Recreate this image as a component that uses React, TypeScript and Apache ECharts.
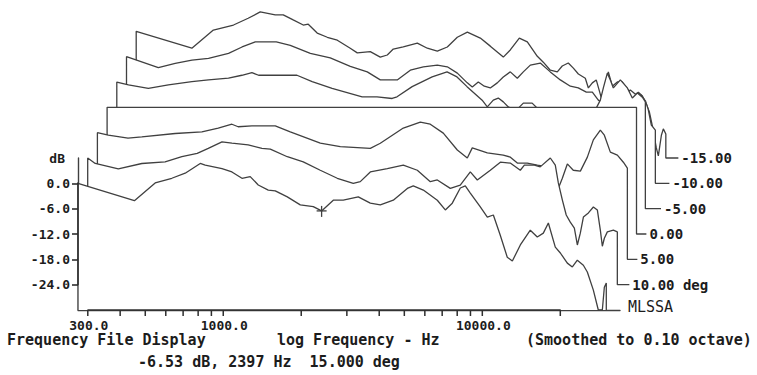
import React, { useEffect, useRef } from 'react';
import * as echarts from 'echarts';

// ---------------- data (frequency in Hz, level in dB relative to on-axis) ----------------
const F_MIN = 275;
const F_MAX = 34000;
const DB_MIN = -30;
const DB_MAX = 6;

const TRACE_LABELS = ['', '10.00 deg', '5.00', '0.00', '-5.00', '-10.00', '-15.00'];
const LABEL_TICK_END = [0, 33900, 33390, 33190, 35100, 34270, 34050];

const FREQ_15 = [275, 454, 546, 633, 713, 815, 852, 989, 1080, 1181, 1271, 1365, 1492, 1588, 1767, 1983, 2226, 2397, 2659, 2905, 3321, 3695, 4039, 4533, 5135, 5414, 5919, 6703, 7197, 7657, 8224, 8597, 8988, 9824, 10455, 11030, 11730, 12483, 13060, 14020, 15320, 16300, 17200, 17985, 19130, 20010, 21290, 22260, 23270, 24550, 25430, 26830, 28040, 29060, 29580, 30100];
const DB_15 = [0, -4.1, 0.1, 1.2, 2.4, 4.7, 4.3, 3.5, 2.7, 1.2, 1.6, -0.4, -1.6, -1.8, -3.2, -5.1, -5.5, -6.53, -4.0, -4.0, -3.2, -4.7, -5.1, -4.0, -1.2, -0.6, -1.6, -4.0, -6.3, -4.7, -1.1, -0.6, -2.3, -5.6, -8.0, -7.5, -12.3, -17.5, -18.4, -14.6, -11.1, -12.7, -11.8, -9.4, -15.1, -16.5, -18.9, -19.8, -18.2, -19.4, -21.0, -25.3, -30, -30, -24.6, -23.6];

const FREQ_10 = [275, 294, 361, 445, 547, 635, 728, 803, 907, 991, 1145, 1294, 1394, 1621, 1868, 2173, 2528, 2914, 3101, 3390, 3943, 4546, 5148, 5779, 6149, 6903, 7542, 8246, 8775, 9850, 10770, 11760, 12860, 13330, 14570, 15350, 16790, 17550, 18030, 18680, 19340, 20050, 20790, 21350, 21920, 22530, 23550, 24620, 25500, 26190, 26660, 27140, 27870, 29410, 30460];
const DB_10 = [0, -1.3, -2.6, -1.3, -0.9, 0.3, 1.1, 2.3, 3.8, 3.5, 3.1, 2.3, 2.1, 0.3, -0.9, -2.9, -4.8, -6.0, -5.6, -3.3, -2.5, -1.7, -2.9, -5.6, -5.2, -7.2, -6.4, -3.3, -5.2, -2.9, -1.0, -1.2, -2.9, -1.7, -1.7, -2.1, 0.0, -1.7, -5.9, -9.9, -13.5, -15.2, -16.6, -20.6, -17.8, -14.0, -13.0, -11.6, -12.3, -17.1, -20.9, -19.0, -17.5, -17.1, -17.5];

const FREQ_5 = [275, 303, 361, 408, 549, 696, 805, 909, 961, 1086, 1336, 1527, 1994, 2382, 3110, 3399, 4170, 4851, 5300, 5950, 6739, 7365, 7698, 8799, 10140, 10800, 11490, 12550, 13730, 15000, 15540, 16040, 16560, 17140, 17920, 18890, 20120, 21410, 22580, 24030, 24900, 26260, 27950, 29480, 30550];
const DB_5 = [0, -0.6, -1.3, -1.0, -0.2, 0.2, 1.1, 2.0, 1.4, 1.6, 1.6, 0.2, -2.5, -3.3, -3.7, -2.5, 1.1, 2.5, 2.0, -0.1, -4.1, -6.0, -3.6, -4.8, -5.3, -5.8, -7.2, -7.2, -7.7, -8.1, -6.5, -10.0, -13.1, -10.8, -7.4, -8.9, -9.1, -5.8, -1.7, 0.6, -0.6, -4.6, -5.3, -7.0, -8.4];

const FREQ_0 = [275, 30400];
const DB_0 = [0, 0];

const FREQ_M5 = [275, 305, 364, 435, 536, 621, 742, 836, 914, 970, 1124, 1364, 1561, 1864, 2434, 2778, 3178, 3319, 3797, 4535, 5177, 5657, 6184, 7073, 7405, 7809, 8163, 8537, 8925, 9498, 10200, 11030, 11550, 12730, 14410, 15760, 17700, 19340, 20220, 20770, 21520, 22100, 22700, 24160, 25710, 26870, 28100, 29380, 30170];
const DB_M5 = [0, -0.7, -1.5, -0.7, 0.1, 0.5, 0.9, 1.6, 2.2, 1.6, 1.6, 1.6, 0.1, -1.5, -3.5, -3.5, -3.9, -3.5, -1.1, 1.2, 2.4, 1.2, -1.1, -4.3, -5.9, -4.3, -3.8, -4.7, -5.9, -6.9, -5.0, -5.0, -6.2, -7.1, -7.1, -6.2, -7.1, -6.6, -4.3, -1.4, 2.1, 0.5, -1.4, 0.5, -1.4, -3.8, -2.6, -3.6, -4.7];

const FREQ_M10 = [275, 365, 424, 492, 570, 681, 768, 864, 1041, 1179, 1409, 1682, 2010, 2337, 2624, 3051, 3426, 3846, 4356, 4760, 5204, 5686, 5945, 6270, 6615, 6976, 7424, 7829, 8334, 8870, 9355, 9956, 10880, 11890, 13000, 14210, 15250, 16380, 17280, 18220, 19220, 20280, 21390, 22970, 24220, 25550, 26710, 27710, 28420, 29190, 30250];
const DB_M10 = [0, -2.6, -1.6, -0.8, -0.4, 0.8, 2.3, 3.5, 3.5, 2.7, 0.8, -0.3, -2.3, -3.6, -5.5, -5.5, -3.2, -2.4, -2.0, -2.4, -3.9, -6.2, -7.2, -6.0, -7.0, -7.4, -6.2, -4.8, -3.6, -5.1, -3.6, -2.0, -1.5, -3.6, -5.5, -7.0, -7.4, -8.4, -8.4, -10.3, -11.2, -9.6, -8.4, -9.3, -7.9, -9.1, -9.1, -10.5, -12.6, -16.2, -17.4];

const FREQ_M15 = [275, 451, 546, 653, 744, 828, 946, 1016, 1110, 1214, 1269, 1374, 1503, 1643, 1843, 1962, 2202, 2407, 2562, 2702, 2952, 3345, 3656, 3996, 4368, 4773, 5218, 5856, 6400, 7184, 7643, 8283, 8894, 9720, 10250, 10910, 11610, 12130, 12800, 13390, 14000, 14890, 15300, 15850, 16410, 17180, 17640, 18270, 18930, 19790, 20700, 21830, 22820, 23860, 24720, 25610, 26310, 27020, 27990, 28500, 29280, 29790, 30460];
const DB_M15 = [0, -4.0, 0.3, 1.5, 3.1, 4.6, 3.9, 3.9, 2.7, 1.5, 1.7, -0.4, -1.4, -2.1, -4.0, -5.1, -4.8, -6.1, -5.6, -4.2, -3.7, -2.8, -4.0, -4.7, -3.7, -1.4, -0.2, -1.6, -3.5, -6.1, -4.4, -1.6, -2.5, -5.9, -7.3, -9.2, -9.6, -8.2, -7.5, -8.7, -10.1, -11.1, -13.4, -12.2, -11.5, -15.8, -13.4, -9.6, -13.0, -12.0, -12.0, -13.9, -15.3, -14.4, -15.3, -17.2, -19.1, -22.4, -27.6, -29.5, -24.6, -23.1, -24.3];

const X_TICKS = [300, 400, 500, 600, 700, 800, 900, 1000, 2000, 3000, 4000, 5000, 6000, 7000, 8000, 9000, 10000, 20000];
const X_LABELS = [300, 1000, 10000];
const Y_TICKS = [0, -6, -12, -18, -24];
const CURSOR = [2397, -6.53];

// tick mark sizes, expressed in axis units of the front grid
const X_TICK_LEN_DB = 1.4;   // ~6 px below the baseline
const Y_TICK_FREQ = 262;     // ~5 px left of the left axis (275 Hz)

// ---------------- layout / style ----------------
const GRID_LEFT = 78;
const GRID_TOP = 158;
const GRID_W = 542;
const GRID_H = 152;
const STEP_X = 9.7;
const STEP_Y = 25.33;

const LINE = '#404040';
const TICK = '#2f2f2f';
const TEXT = '#1c1c1c';
const MONO = '"DejaVu Sans Mono", "Liberation Mono", monospace';

export default function App() {
  const ref = useRef<HTMLDivElement>(null);

  useEffect(() => {
    const el = ref.current;
    if (!el) return;
    const chart = echarts.init(el, null, { renderer: 'svg' });

    const traces = [
      { f: FREQ_15, db: DB_15 },
      { f: FREQ_10, db: DB_10 },
      { f: FREQ_5, db: DB_5 },
      { f: FREQ_0, db: DB_0 },
      { f: FREQ_M5, db: DB_M5 },
      { f: FREQ_M10, db: DB_M10 },
      { f: FREQ_M15, db: DB_M15 },
    ];

    const grids = traces.map((_, k) => ({
      left: GRID_LEFT + k * STEP_X,
      top: GRID_TOP - k * STEP_Y,
      width: GRID_W,
      height: GRID_H,
      containLabel: false,
      outerBoundsMode: 'none',
    }));

    const xAxes = traces.map((_, k) => ({
      type: 'log',
      logBase: 10,
      gridIndex: k,
      min: F_MIN,
      max: F_MAX,
      show: k === 0,
      axisLine: { show: k === 0, onZero: false, lineStyle: { color: LINE, width: 1.4 } },
      axisTick: { show: false },
      axisLabel: { show: false },
      splitLine: { show: false },
      minorTick: { show: false },
    }));

    const yAxes = traces.map((_, k) => {
      if (k > 0) {
        return { type: 'value', gridIndex: k, min: DB_MIN, max: DB_MAX, show: false, splitLine: { show: false } };
      }
      return {
        type: 'value',
        gridIndex: 0,
        min: DB_MIN,
        max: DB_MAX,
        name: 'dB',
        nameLocation: 'end',
        nameGap: 0,
        nameTextStyle: {
          align: 'right',
          verticalAlign: 'middle',
          padding: [0, 13, 0, 0],
          color: TEXT,
          fontFamily: MONO,
          fontSize: 13,
          fontWeight: 'bold',
        },
        axisLine: { show: true, onZero: false, lineStyle: { color: LINE, width: 1.4 } },
        axisTick: { show: true, customValues: Y_TICKS, length: 6, lineStyle: { color: TICK, width: 1.6 } },
        axisLabel: {
          show: true,
          customValues: Y_TICKS,
          formatter: (v: number) => v.toFixed(1),
          margin: 8,
          color: TEXT,
          fontFamily: MONO,
          fontSize: 13,
          fontWeight: 'bold',
        },
        splitLine: { show: false },
      };
    });

    const traceSeries = traces.map((t, k) => {
      const pts = t.f.map((f, i) => [f, t.db[i]]);
      const last = t.f[t.f.length - 1];
      const data: number[][] = [[t.f[0], DB_MIN], ...pts, [last, DB_MIN]];
      if (k > 0) data.push([LABEL_TICK_END[k], DB_MIN]);
      const s: any = {
        type: 'line',
        name: k === 0 ? '15.00 deg' : TRACE_LABELS[k],
        xAxisIndex: k,
        yAxisIndex: k,
        data,
        symbol: 'none',
        clip: false,
        silent: true,
        z: 20 - k,
        lineStyle: { color: LINE, width: 1.3 },
        areaStyle: { color: '#ffffff', opacity: 1, origin: 'start' },
      };
      if (k > 0) {
        s.endLabel = {
          show: true,
          formatter: TRACE_LABELS[k],
          distance: 3,
          color: TEXT,
          fontFamily: MONO,
          fontSize: 14,
          fontWeight: 'bold',
        };
      }
      return s;
    });

    // tick combs drawn as line series through the front grid's axes
    const xComb: number[][] = [];
    X_TICKS.forEach((f) => {
      xComb.push([f, DB_MIN], [f, DB_MIN - X_TICK_LEN_DB], [f, DB_MIN]);
    });
    const yComb: number[][] = [];
    Y_TICKS.forEach((v) => {
      yComb.push([F_MIN, v], [Y_TICK_FREQ, v], [F_MIN, v]);
    });
    const combStyle = {
      type: 'line',
      xAxisIndex: 0,
      yAxisIndex: 0,
      symbol: 'none',
      clip: false,
      silent: true,
      z: 30,
      lineStyle: { color: TICK, width: 1.5 },
    };
    const xTickSeries = { ...combStyle, name: 'xticks', data: xComb };
    const yTickSeries = { ...combStyle, name: 'yticks', data: yComb };

    const cursorSeries = {
      type: 'custom',
      xAxisIndex: 0,
      yAxisIndex: 0,
      silent: true,
      clip: false,
      z: 45,
      data: [CURSOR],
      renderItem: (params: any, api: any) => {
        const p = api.coord([api.value(0), api.value(1)]);
        return {
          type: 'group',
          children: [
            { type: 'line', shape: { x1: p[0] - 5, y1: p[1], x2: p[0] + 5, y2: p[1] }, style: { stroke: LINE, lineWidth: 1.3 } },
            { type: 'line', shape: { x1: p[0], y1: p[1] - 5, x2: p[0], y2: p[1] + 6 }, style: { stroke: LINE, lineWidth: 1.3 } },
          ],
        };
      },
    };

    chart.setOption({
      animation: false,
      backgroundColor: '#ffffff',
      textStyle: { fontFamily: MONO },
      grid: grids,
      xAxis: xAxes,
      yAxis: yAxes,
      series: [...traceSeries, xTickSeries, yTickSeries, cursorSeries],
    } as any);

    // x-axis tick labels, positioned through the front grid's log axis
    const labelGraphics: any[] = [];
    X_LABELS.forEach((f) => {
      const p = chart.convertToPixel({ gridIndex: 0 }, [f, DB_MIN]) as number[];
      if (!p) return;
      labelGraphics.push({
        type: 'text',
        z: 100,
        silent: true,
        x: p[0] + 1,
        y: p[1] + 15,
        style: {
          text: f.toFixed(1),
          fill: TEXT,
          font: `bold 13px ${MONO}`,
          align: 'center',
          verticalAlign: 'middle',
          textAlign: 'center',
          textVerticalAlign: 'middle',
        },
      });
    });

    const bold15 = `bold 15px ${MONO}`;
    const textGraphics: any[] = [
      { type: 'text', x: 7, y: 340, z: 100, style: { text: 'Frequency File Display', font: bold15, fill: TEXT, verticalAlign: 'middle', textVerticalAlign: 'middle' } },
      { type: 'text', x: 277, y: 340, z: 100, style: { text: 'log Frequency - Hz', font: bold15, fill: TEXT, verticalAlign: 'middle', textVerticalAlign: 'middle' } },
      { type: 'text', x: 526, y: 340, z: 100, style: { text: '(Smoothed to 0.10 octave)', font: bold15, fill: TEXT, verticalAlign: 'middle', textVerticalAlign: 'middle' } },
      { type: 'text', x: 138, y: 362, z: 100, style: { text: '-6.53 dB, 2397 Hz  15.000 deg', font: bold15, fill: TEXT, verticalAlign: 'middle', textVerticalAlign: 'middle' } },
      { type: 'text', x: 628, y: 307, z: 100, style: { text: 'MLSSA', font: `15px ${MONO}`, fill: TEXT, verticalAlign: 'middle', textVerticalAlign: 'middle' } },
    ];

    chart.setOption({ graphic: [...labelGraphics, ...textGraphics] } as any);

    return () => chart.dispose();
  }, []);

  return (
    <div
      ref={ref}
      style={{ position: 'fixed', left: 0, top: 0, width: 757, height: 375, background: '#fff' }}
    />
  );
}
